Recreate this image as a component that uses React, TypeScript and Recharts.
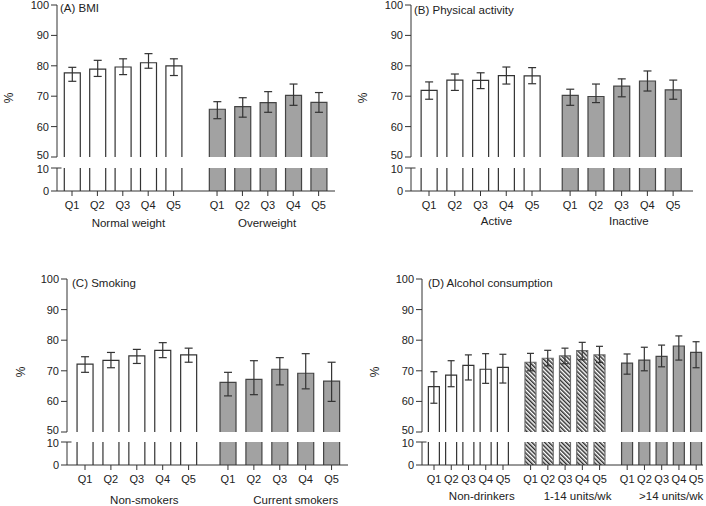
import React from 'react';
import { ComposedChart, Bar, XAxis, YAxis, ErrorBar, ReferenceLine } from 'recharts';

const quintiles = ['Q1', 'Q2', 'Q3', 'Q4', 'Q5'];
const topTicks = [50, 60, 70, 80, 90, 100];
const bottomTicks = [0, 10];

// (A) BMI
const bmiGroups = ['Normal weight', 'Overweight'];
const bmiNormal = [77.7, 78.9, 79.6, 81.0, 80.0];
const bmiNormalLo = [74.9, 76.5, 77.1, 79.2, 76.8];
const bmiNormalHi = [79.5, 81.8, 82.3, 84.0, 82.3];
const bmiOver = [65.7, 66.6, 67.9, 70.3, 68.0];
const bmiOverLo = [62.6, 63.1, 64.7, 67.0, 64.7];
const bmiOverHi = [68.2, 69.5, 71.5, 74.0, 71.2];

// (B) Physical activity
const paGroups = ['Active', 'Inactive'];
const paActive = [71.9, 75.3, 75.2, 76.8, 76.7];
const paActiveLo = [69.0, 71.9, 72.5, 74.0, 74.1];
const paActiveHi = [74.7, 77.3, 77.7, 79.6, 79.4];
const paInactive = [70.3, 69.9, 73.3, 75.0, 72.1];
const paInactiveLo = [67.0, 67.9, 69.8, 71.7, 69.0];
const paInactiveHi = [72.3, 74.0, 75.7, 78.3, 75.3];

// (C) Smoking
const smGroups = ['Non-smokers', 'Current smokers'];
const smNon = [72.2, 73.4, 74.9, 76.7, 75.2];
const smNonLo = [69.5, 71.0, 72.4, 74.3, 72.8];
const smNonHi = [74.6, 76.0, 77.0, 79.2, 77.4];
const smCurrent = [66.2, 67.2, 70.5, 69.2, 66.6];
const smCurrentLo = [61.8, 62.2, 65.4, 64.1, 60.0];
const smCurrentHi = [69.5, 73.3, 74.3, 75.6, 72.8];

// (D) Alcohol consumption
const alGroups = ['Non-drinkers', '1-14 units/wk', '>14 units/wk'];
const alNone = [64.8, 68.6, 71.8, 70.5, 71.1];
const alNoneLo = [59.4, 64.8, 67.0, 65.9, 66.0];
const alNoneHi = [69.7, 73.3, 75.2, 75.6, 75.4];
const alModerate = [72.8, 74.1, 74.9, 76.6, 75.2];
const alModerateLo = [70.0, 71.6, 72.3, 73.6, 72.7];
const alModerateHi = [75.7, 76.7, 77.4, 79.3, 78.0];
const alHeavy = [72.5, 73.5, 74.7, 78.1, 76.0];
const alHeavyLo = [68.9, 70.0, 71.3, 73.5, 71.0];
const alHeavyHi = [75.5, 77.7, 78.4, 81.4, 79.5];

const FONT = '"Liberation Sans", Arial, Helvetica, sans-serif';
const INK = '#222';

type Kind = 'open' | 'hatch' | 'solid';
type Group = { name: string; values: number[]; lo: number[]; hi: number[]; kind: Kind };
type PanelSpec = {
  id: string;
  title: string;
  groups: Group[];
  axisX: number;
  xEnd: number;
  q1X: number;
  spacing: number;
  step: number;
  y100: number;
  y50: number;
  y10: number;
  y0: number;
  barSize: number;
  cap: number;
  labelAt: number[];
  qMargin: number;
  gMargin: number;
  titleX: number;
  titleY: number;
  pctX: number;
};

const panels: PanelSpec[] = [
  {
    id: 'a', title: '(A) BMI',
    groups: [
      { name: bmiGroups[0], values: bmiNormal, lo: bmiNormalLo, hi: bmiNormalHi, kind: 'open' },
      { name: bmiGroups[1], values: bmiOver, lo: bmiOverLo, hi: bmiOverHi, kind: 'solid' },
    ],
    axisX: 57, xEnd: 335, q1X: 72, spacing: 25.4, step: 5.71,
    y100: 5, y50: 157, y10: 168, y0: 191,
    barSize: 16, cap: 4, labelAt: [3.22, 8.68], qMargin: 5, gMargin: 10,
    titleX: 60, titleY: 8, pctX: 9,
  },
  {
    id: 'b', title: '(B) Physical activity',
    groups: [
      { name: paGroups[0], values: paActive, lo: paActiveLo, hi: paActiveHi, kind: 'open' },
      { name: paGroups[1], values: paInactive, lo: paInactiveLo, hi: paInactiveHi, kind: 'solid' },
    ],
    axisX: 411, xEnd: 693, q1X: 429, spacing: 25.75, step: 5.48,
    y100: 5, y50: 157, y10: 168, y0: 191,
    barSize: 16, cap: 4, labelAt: [3.62, 8.76], qMargin: 5, gMargin: 8,
    titleX: 414, titleY: 10, pctX: 363,
  },
  {
    id: 'c', title: '(C) Smoking',
    groups: [
      { name: smGroups[0], values: smNon, lo: smNonLo, hi: smNonHi, kind: 'open' },
      { name: smGroups[1], values: smCurrent, lo: smCurrentLo, hi: smCurrentHi, kind: 'solid' },
    ],
    axisX: 67, xEnd: 348, q1X: 85, spacing: 25.9, step: 5.52,
    y100: 279, y50: 432, y10: 442, y0: 465,
    barSize: 16, cap: 4, labelAt: [3.29, 9.14], qMargin: 5, gMargin: 13,
    titleX: 72, titleY: 283, pctX: 21,
  },
  {
    id: 'd', title: '(D) Alcohol consumption',
    groups: [
      { name: alGroups[0], values: alNone, lo: alNoneLo, hi: alNoneHi, kind: 'open' },
      { name: alGroups[1], values: alModerate, lo: alModerateLo, hi: alModerateHi, kind: 'hatch' },
      { name: alGroups[2], values: alHeavy, lo: alHeavyLo, hi: alHeavyHi, kind: 'solid' },
    ],
    axisX: 422, xEnd: 703, q1X: 434, spacing: 17.25, step: 5.6,
    y100: 279, y50: 432, y10: 442, y0: 465,
    barSize: 11, cap: 3.5, labelAt: [3.77, 9.32, 14.75], qMargin: 5, gMargin: 9,
    titleX: 428, titleY: 283, pctX: 375,
  },
];

const fillOf = (kind: Kind) => (kind === 'open' ? '#fff' : kind === 'solid' ? '#a2a2a2' : 'url(#hatch-d)');
const strokeOf = (kind: Kind) => (kind === 'open' ? '#333' : kind === 'solid' ? '#444' : '#6e6e6e');

// top segment: open at the bottom (axis break)
const TopBar = (props: any) => {
  const { x, y, width, height, payload } = props;
  if (!width || !height) return null;
  const b = y + height;
  return (
    <g>
      <rect x={x} y={y} width={width} height={height} fill={fillOf(payload.kind)} />
      <path d={`M${x},${b}V${y}H${x + width}V${b}`} fill="none" stroke={strokeOf(payload.kind)} strokeWidth={1.2} />
    </g>
  );
};

// bottom segment: open at the top, clipped by the plot area
const BottomBar = (props: any) => {
  const { x, y, width, height, payload } = props;
  if (!width || !height) return null;
  const b = y + height;
  return (
    <g>
      <rect x={x} y={y} width={width} height={height} fill={fillOf(payload.kind)} />
      <path d={`M${x},${b}V${y}M${x + width},${y}V${b}`} fill="none" stroke={strokeOf(payload.kind)} strokeWidth={1.2} />
    </g>
  );
};

// y tick labels; the two labels at the break are nudged apart a little
const YTick = (props: any) => {
  const { x, y, payload } = props;
  const v = payload.value;
  const nudge = v === 50 ? -1.5 : v === 10 ? 1 : 0;
  return (
    <text x={x} y={y + nudge} dy="0.355em" textAnchor="end" fill={INK} fontSize={11} fontFamily={FONT}>
      {v}
    </text>
  );
};

function Panel({ p }: { p: PanelSpec }) {
  const rows = p.groups.flatMap((g, gi) =>
    g.values.map((v, qi) => ({
      x: qi + 1 + gi * p.step,
      q: quintiles[qi],
      v,
      err: [v - g.lo[qi], g.hi[qi] - v],
      kind: g.kind,
    }))
  );
  const xs = rows.map(r => r.x);
  const domain = [1 - (p.q1X - p.axisX) / p.spacing, 1 + (p.xEnd - p.q1X) / p.spacing];
  const YW = 44;
  const plotW = p.xEnd - p.axisX;
  const topH = p.y50 - p.y100;
  const botH = p.y0 - p.y10;
  const tick = { fill: INK, fontSize: 11, fontFamily: FONT };
  const qLabel = (val: number) => rows.find(r => Math.abs(r.x - val) < 1e-6)?.q ?? '';

  return (
    <>
      <div style={{ position: 'absolute', left: p.titleX, top: p.titleY - 7, lineHeight: '14px', fontSize: 11.5, fontFamily: FONT, color: INK, whiteSpace: 'nowrap' }}>
        {p.title}
      </div>
      <div style={{ position: 'absolute', left: p.pctX - 10, top: (p.y100 + p.y0) / 2 - 8, width: 20, height: 16, lineHeight: '16px', textAlign: 'center', transform: 'rotate(-90deg)', fontSize: 12, fontFamily: FONT, color: INK }}>
        %
      </div>
      <div style={{ position: 'absolute', left: p.axisX - YW, top: p.y100 - 8 }}>
        <ComposedChart width={YW + plotW + 6} height={8 + topH + 8} data={rows} margin={{ top: 8, right: 6, bottom: 8, left: 0 }}>
          <XAxis type="number" dataKey="x" domain={domain} allowDataOverflow hide />
          <YAxis
            type="number" domain={[50, 100]} ticks={topTicks} allowDataOverflow interval={0} width={YW}
            tick={(t: any) => <YTick {...t} />} tickSize={6} tickMargin={2}
            axisLine={{ stroke: '#333' }} tickLine={{ stroke: '#333' }}
          />
          <Bar dataKey="v" barSize={p.barSize} isAnimationActive={false} shape={(s: any) => <TopBar {...s} />}>
            <ErrorBar dataKey="err" width={p.cap} stroke="#333" strokeWidth={1.2} direction="y" isAnimationActive={false} />
          </Bar>
        </ComposedChart>
      </div>
      <div style={{ position: 'absolute', left: p.axisX - YW, top: p.y10 - 4 }}>
        <ComposedChart width={YW + plotW + 6} height={4 + botH + 18 + 30} data={rows} margin={{ top: 4, right: 6, bottom: 0, left: 0 }}>
          <XAxis
            xAxisId={0} type="number" dataKey="x" domain={domain} allowDataOverflow
            ticks={xs} interval={0} tickFormatter={qLabel} height={18}
            tick={tick} tickSize={5} tickMargin={p.qMargin}
            axisLine={{ stroke: '#333' }} tickLine={{ stroke: '#333' }}
          />
          <XAxis
            xAxisId={1} type="number" dataKey="x" domain={domain} allowDataOverflow
            ticks={p.labelAt} interval={0} tickFormatter={(_v: number, i: number) => p.groups[i]?.name ?? ''}
            height={30} tickSize={0} tickMargin={p.gMargin} axisLine={false} tickLine={false}
            tick={{ ...tick, fontSize: 11.5 }}
          />
          <YAxis
            type="number" domain={[0, 10]} ticks={bottomTicks} allowDataOverflow interval={0} width={YW}
            tick={(t: any) => <YTick {...t} />} tickSize={6} tickMargin={2}
            axisLine={{ stroke: '#333' }} tickLine={{ stroke: '#333' }}
          />
          <Bar xAxisId={0} dataKey="v" barSize={p.barSize} isAnimationActive={false} shape={(s: any) => <BottomBar {...s} />} />
          <ReferenceLine
            xAxisId={0}
            segment={[{ x: domain[0], y: 10 }, { x: domain[0] + 4.5 / p.spacing, y: 10 }]}
            stroke="#333" ifOverflow="visible"
          />
        </ComposedChart>
      </div>
    </>
  );
}

export default function App() {
  return (
    <div style={{ position: 'absolute', left: 0, top: 0, width: 706, height: 506, background: '#fff', overflow: 'hidden' }}>
      <svg width={0} height={0} style={{ position: 'absolute' }}>
        <defs>
          <pattern id="hatch-d" width={3} height={3} patternUnits="userSpaceOnUse" patternTransform="rotate(-45)">
            <rect width={3} height={3} fill="#fff" />
            <line x1={0.75} y1={0} x2={0.75} y2={3} stroke="#222" strokeWidth={1.4} />
          </pattern>
        </defs>
      </svg>
      {panels.map(p => (
        <Panel key={p.id} p={p} />
      ))}
    </div>
  );
}
